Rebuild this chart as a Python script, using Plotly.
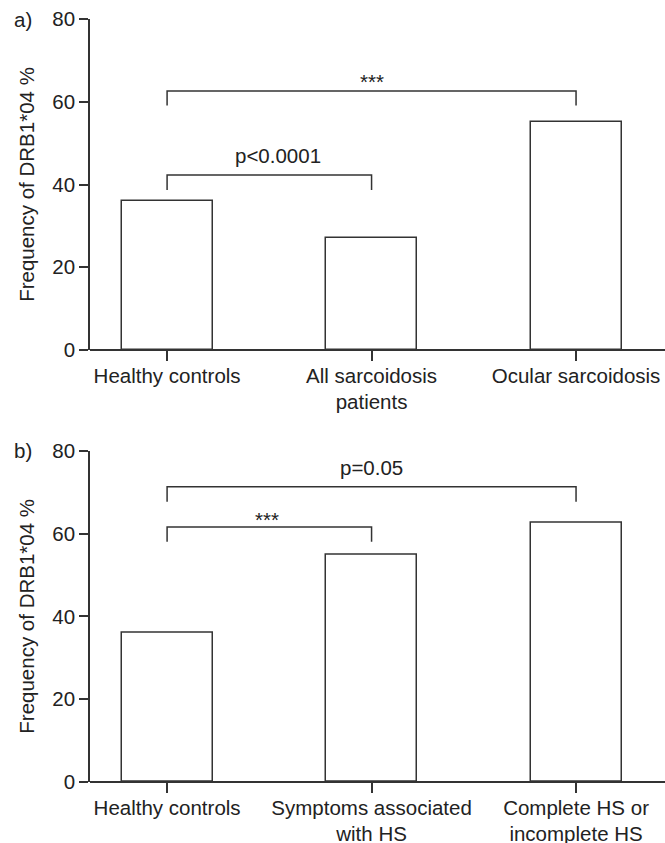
import plotly.graph_objects as go
from plotly.subplots import make_subplots

# ---- data ----
categories_a = ["Healthy controls", "All sarcoidosis<br>patients", "Ocular sarcoidosis"]
values_a = [36.0, 27.0, 55.0]
categories_b = ["Healthy controls", "Symptoms associated<br>with HS", "Complete HS or<br>incomplete HS"]
values_b = [36.0, 54.8, 62.5]

# significance brackets: (from index, to index, bar height, leg drop, label, label x, label y)
brackets_a = [
    (0, 1, 42.3, 3.6, "p<0.0001", 0.54, 47.0),
    (0, 2, 62.6, 3.5, "***", 1.0, 65.0),
]
brackets_b = [
    (0, 1, 61.6, 3.6, "***", 0.49, 63.5),
    (0, 2, 71.3, 3.6, "p=0.05", 1.0, 76.0),
]
y_ticks = [0, 20, 40, 60, 80]
y_title = "Frequency of DRB1*04 %"
panel_labels = ["a)", "b)"]

LINE = "#333333"
TEXT = "#222222"
FONT = "Liberation Sans, Arial, sans-serif"
FS = 20.5
W, H = 665, 843
ML = 90

fig = make_subplots(rows=2, cols=1)

xpos = [0, 1, 2]
for row, (cats, vals, brs) in enumerate(
    [(categories_a, values_a, brackets_a), (categories_b, values_b, brackets_b)], start=1
):
    fig.add_trace(
        go.Bar(
            x=xpos, y=vals, width=0.445,
            marker=dict(color="white", line=dict(color=LINE, width=1.5)),
            showlegend=False, hoverinfo="skip",
        ),
        row=row, col=1,
    )
    for (i0, i1, h, d, lab, lx, ly) in brs:
        fig.add_trace(
            go.Scatter(
                x=[xpos[i0], xpos[i0], xpos[i1], xpos[i1]],
                y=[h - d, h, h, h - d],
                mode="lines", line=dict(color=LINE, width=1.5),
                showlegend=False, hoverinfo="skip",
            ),
            row=row, col=1,
        )
        xr = "x" if row == 1 else "x2"
        yr = "y" if row == 1 else "y2"
        fig.add_annotation(
            x=lx, y=ly, xref=xr, yref=yr, text=lab, showarrow=False,
            font=dict(size=FS, color=TEXT, family=FONT),
            xanchor="center", yanchor="middle",
        )
    fig.update_xaxes(
        row=row, col=1, automargin=False,
        tickmode="array", tickvals=xpos, ticktext=cats,
        range=[-0.377, 2.435], showgrid=False, zeroline=False,
        showline=False,
        ticks="outside", ticklen=10, tickwidth=1.5, tickcolor=LINE,
        ticklabelstandoff=-3, ticklabeloverflow="allow",
        tickfont=dict(size=FS, color=TEXT, family=FONT),
    )
    fig.update_yaxes(
        row=row, col=1, automargin=False,
        range=[0, 80], tickvals=y_ticks, showgrid=False,
        zeroline=True, zerolinecolor=LINE, zerolinewidth=1.5,
        showline=True, linecolor=LINE, linewidth=1.5,
        ticks="outside", ticklen=9, tickwidth=1.5, tickcolor=LINE,
        ticklabeloverflow="allow",
        tickfont=dict(size=FS, color=TEXT, family=FONT),
        title=dict(text=y_title, font=dict(size=FS, color=TEXT, family=FONT), standoff=12),
    )

def yd(px):
    return 1 - px / H

fig.update_layout(
    width=W, height=H,
    margin=dict(l=ML, r=0, t=0, b=0),
    plot_bgcolor="white", paper_bgcolor="white",
    font=dict(family=FONT, color=TEXT, size=FS),
    bargap=0,
    xaxis=dict(domain=[0, 1], anchor="y"),
    yaxis=dict(domain=[yd(350), yd(19)], anchor="x"),
    xaxis2=dict(domain=[0, 1], anchor="y2"),
    yaxis2=dict(domain=[yd(782), yd(450.7)], anchor="x2"),
)

plot_w = W - ML
for lab, yfrac in zip(panel_labels, [yd(19), yd(450.7)]):
    fig.add_annotation(
        x=(12 - ML) / plot_w, y=yfrac, xref="paper", yref="paper", text=lab, showarrow=False,
        xanchor="left", yanchor="middle", font=dict(size=FS, color=TEXT, family=FONT),
    )

fig.write_html(
    "out.html",
    config={"displayModeBar": False},
    post_script="document.body.style.margin='0';document.body.style.overflow='hidden';",
)
